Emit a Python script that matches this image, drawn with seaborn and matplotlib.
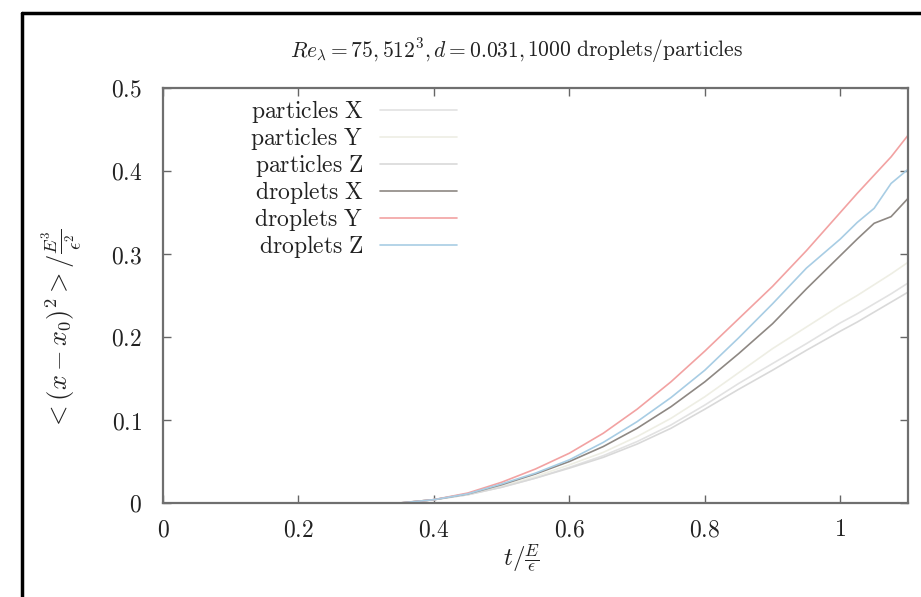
import matplotlib
matplotlib.use("Agg")
import matplotlib.pyplot as plt
import matplotlib.lines as mlines
import numpy as np
import pandas as pd
import seaborn as sns

# time axis (in units of E/epsilon)
t = [0.0, 0.1, 0.2, 0.3, 0.35, 0.4, 0.45, 0.5, 0.55, 0.6, 0.65, 0.7, 0.75,
     0.8, 0.85, 0.9, 0.95, 1.0, 1.025, 1.05, 1.075, 1.1]

# mean squared displacement per direction
particles_x = [0, 0, 0, 0, 0, 0.004, 0.010, 0.019, 0.030, 0.043, 0.057, 0.074, 0.094,
               0.118, 0.144, 0.168, 0.192, 0.217, 0.228, 0.240, 0.252, 0.265]
particles_y = [0, 0, 0, 0, 0, 0.004, 0.010, 0.020, 0.032, 0.046, 0.061, 0.080, 0.102,
               0.128, 0.157, 0.186, 0.212, 0.238, 0.250, 0.263, 0.276, 0.290]
particles_z = [0, 0, 0, 0, 0, 0.004, 0.010, 0.019, 0.030, 0.042, 0.055, 0.071, 0.090,
               0.113, 0.137, 0.160, 0.184, 0.207, 0.218, 0.230, 0.242, 0.254]
droplets_x = [0, 0, 0, 0, 0, 0.004, 0.011, 0.022, 0.035, 0.050, 0.068, 0.090, 0.116,
              0.146, 0.180, 0.216, 0.258, 0.298, 0.318, 0.337, 0.345, 0.367]
droplets_y = [0, 0, 0, 0, 0, 0.004, 0.012, 0.025, 0.041, 0.060, 0.084, 0.113, 0.146,
              0.183, 0.222, 0.261, 0.304, 0.350, 0.373, 0.395, 0.417, 0.443]
droplets_z = [0, 0, 0, 0, 0, 0.004, 0.011, 0.023, 0.036, 0.052, 0.073, 0.098, 0.127,
              0.160, 0.199, 0.240, 0.283, 0.318, 0.338, 0.355, 0.385, 0.402]

series_names = ["particles X", "particles Y", "particles Z",
                "droplets X", "droplets Y", "droplets Z"]
series_values = [particles_x, particles_y, particles_z,
                 droplets_x, droplets_y, droplets_z]
colors = ["#e2e2e2", "#eeeee4", "#d9d9d9", "#8e8883", "#f2a2a2", "#a8cde4"]

x_ticks = [0, 0.2, 0.4, 0.6, 0.8, 1.0]
x_tick_labels = ["0", "0.2", "0.4", "0.6", "0.8", "1"]
y_ticks = [0, 0.1, 0.2, 0.3, 0.4, 0.5]
y_tick_labels = ["0", "0.1", "0.2", "0.3", "0.4", "0.5"]

df = pd.DataFrame({
    "t": np.tile(t, len(series_names)),
    "msd": np.concatenate(series_values),
    "series": np.repeat(series_names, len(t)),
})

sns.set_theme(style="ticks")
plt.rcParams["mathtext.fontset"] = "cm"
plt.rcParams["font.family"] = ["DejaVu Serif"]

fig = plt.figure(figsize=(9.21, 5.97), dpi=100)
ax = fig.add_axes([163 / 921, 94 / 597, 745 / 921, 415 / 597])

sns.lineplot(data=df, x="t", y="msd", hue="series", hue_order=series_names,
             palette=colors, linewidth=1.2, ax=ax, legend=False)

ax.set_xlim(0, 1.1)
ax.set_ylim(0, 0.5)
ax.set_xticks(x_ticks)
ax.set_xticklabels([f"${s}$" for s in x_tick_labels])
ax.set_yticks(y_ticks)
ax.set_yticklabels([f"${s}$" for s in y_tick_labels])
ax.tick_params(axis="both", direction="in", length=6, width=1.0, color="#666666",
               labelsize=17, labelcolor="#222222", top=True, right=True)
ax.tick_params(axis="x", pad=11)
ax.tick_params(axis="y", pad=15)
for sp in ax.spines.values():
    sp.set_visible(True)
    sp.set_color("#6f6f6f")
    sp.set_linewidth(1.6)

ax.set_xlabel(r"$t/\frac{E}{\epsilon}$", fontsize=18, color="#222222")
ax.xaxis.set_label_coords(0.481, -0.095)
ax.set_ylabel(r"$<(x-x_0)^2>/\frac{E^3}{\epsilon^2}$", fontsize=19, color="#222222")
ax.yaxis.set_label_coords(-0.107, 0.418)

# title: parameters in math, then plain text
fig.text(290 / 921, 1 - 50 / 597,
         r"$Re_\lambda = 75, 512^3, d = 0.031,$",
         ha="left", va="center", fontsize=15.5, color="#222222")
fig.text(527 / 921, 1 - 50 / 597,
         r"$\mathrm{1000\ droplets/particles}$",
         ha="left", va="center", fontsize=15.5, color="#222222")

handles = [mlines.Line2D([], [], color=c, linewidth=1.2) for c in colors]
labels = [rf"$\mathrm{{{n.replace(' ', r'\ ')}}}$" for n in series_names]
leg = ax.legend(handles, labels, loc="upper right", bbox_to_anchor=(0.395, 0.975),
                markerfirst=False, frameon=False, fontsize=17,
                handlelength=3.26, handletextpad=0.72, labelspacing=0.0,
                borderpad=0.0, borderaxespad=0.0)
for txt in leg.get_texts():
    txt.set_color("#222222")

# surrounding frame lines
fig.add_artist(mlines.Line2D([22 / 921, 22 / 921], [0, 1 - 13 / 597],
                             transform=fig.transFigure, color="black", linewidth=2.5))
fig.add_artist(mlines.Line2D([22 / 921, 1], [1 - 13 / 597, 1 - 13 / 597],
                             transform=fig.transFigure, color="black", linewidth=2.5))

fig.savefig("out.png", dpi=100)
